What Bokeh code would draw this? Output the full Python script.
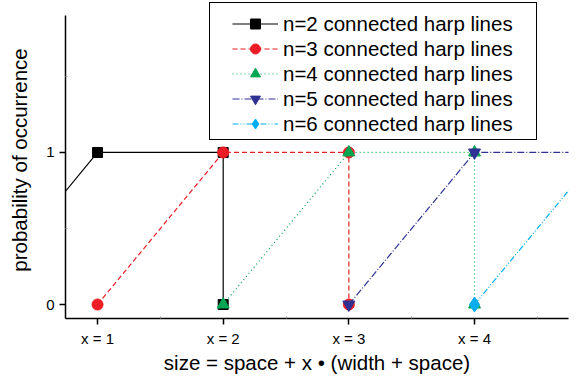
from bokeh.plotting import figure
from bokeh.models import FixedTicker, Range1d, Legend, LegendItem
from bokeh.embed import file_html
from bokeh.resources import INLINE

# data
x_n2 = [0, 1, 2, 2]
y_n2 = [0, 1, 1, 0]
x_n3 = [1, 2, 3, 3]
y_n3 = [0, 1, 1, 0]
x_n4 = [2, 3, 4, 4]
y_n4 = [0, 1, 1, 0]
x_n5 = [3, 4, 5, 5]
y_n5 = [0, 1, 1, 0]
x_n6 = [4, 5, 6, 6]
y_n6 = [0, 1, 1, 0]

labels = ["n=2 connected harp lines", "n=3 connected harp lines", "n=4 connected harp lines",
          "n=5 connected harp lines", "n=6 connected harp lines"]
x_ticks = [1, 2, 3, 4]
x_tick_labels = ["x = 1", "x = 2", "x = 3", "x = 4"]
y_ticks = [0, 1]

FONT = "Liberation Sans"

p = figure(width=584, height=378, output_backend="svg", toolbar_location=None,
           x_range=Range1d(0.745, 4.748), y_range=Range1d(-0.092, 1.993),
           min_border_left=65, min_border_right=16, min_border_top=1, min_border_bottom=60)
p.outline_line_color = None
p.grid.visible = False
p.background_fill_color = "white"
p.border_fill_color = "white"

series = [
    (x_n2, y_n2, "black", "solid", "square", 10),
    (x_n3, y_n3, "#EE1C25", "5 3", "circle", 11),
    (x_n4, y_n4, "#00A651", "1 3", "triangle", 12),
    (x_n5, y_n5, "#2E3192", "7 2 1 2", "inverted_triangle", 12),
    (x_n6, y_n6, "#00AEEF", "6 2 1 2 1 2", "diamond", 15),
]

# invisible helper renderer for the legend frame
frame_r = p.line(x_n2, y_n2, line_alpha=0)
box_legend = Legend(items=[LegendItem(label=" ", renderers=[frame_r])], location=(144, 178),
                    padding=0, spacing=0, margin=0, glyph_width=1, glyph_height=136,
                    label_width=325, label_height=136, label_standoff=0,
                    border_line_color="black", border_line_width=1.5, border_line_alpha=1,
                    background_fill_color="white", background_fill_alpha=1)
p.add_layout(box_legend, "center")

items = []
for (xs, ys, col, dash, mk, sz), lab in zip(series, labels):
    r1 = p.line(xs, ys, line_color=col, line_dash=dash, line_width=1.2)
    r2 = p.scatter(xs, ys, marker=mk, size=sz, fill_color=col, line_color=col)
    items.append(LegendItem(label=lab, renderers=[r1, r2]))

legend = Legend(items=items, location=(161, 176), padding=6, spacing=0,
                label_height=25, glyph_height=25, glyph_width=46, label_standoff=5,
                label_text_font=FONT, label_text_font_size="20.5px", label_text_color="black",
                border_line_alpha=0, background_fill_alpha=0, margin=0)
p.add_layout(legend, "center")

for ax in (p.xaxis, p.yaxis):
    ax.axis_line_width = 1.5
    ax.axis_line_color = "black"
    ax.major_tick_line_color = "black"
    ax.major_tick_line_width = 1.5
    ax.major_tick_out = 6
    ax.major_tick_in = 0
    ax.minor_tick_in = 2
    ax.minor_tick_out = 0
    ax.minor_tick_line_color = "#999999"
    ax.major_label_text_font = FONT
    ax.axis_label_text_font = FONT
    ax.axis_label_text_font_style = "normal"
    ax.axis_label_text_font_size = "20.5px"
    ax.axis_label_text_color = "black"
    ax.major_label_text_color = "black"

p.xaxis.ticker = FixedTicker(ticks=x_ticks, minor_ticks=[1.5, 2.5, 3.5, 4.5])
p.xaxis.major_label_overrides = {t: l for t, l in zip(x_ticks, x_tick_labels)}
p.xaxis.major_label_text_font_size = "15px"
p.xaxis.major_label_standoff = 5
p.xaxis.axis_label = "size = space + x \u2022 (width + space)"
p.xaxis.axis_label_standoff = 1

p.yaxis.ticker = FixedTicker(ticks=y_ticks, minor_ticks=[0.5, 1.5])
p.yaxis.bounds = (-0.092, 1.901)
p.yaxis.major_label_text_font_size = "15px"
p.yaxis.major_label_standoff = 5
p.yaxis.axis_label = "probability of occurrence"
p.yaxis.axis_label_standoff = 12

open("out.html", "w").write(file_html(p, INLINE))
